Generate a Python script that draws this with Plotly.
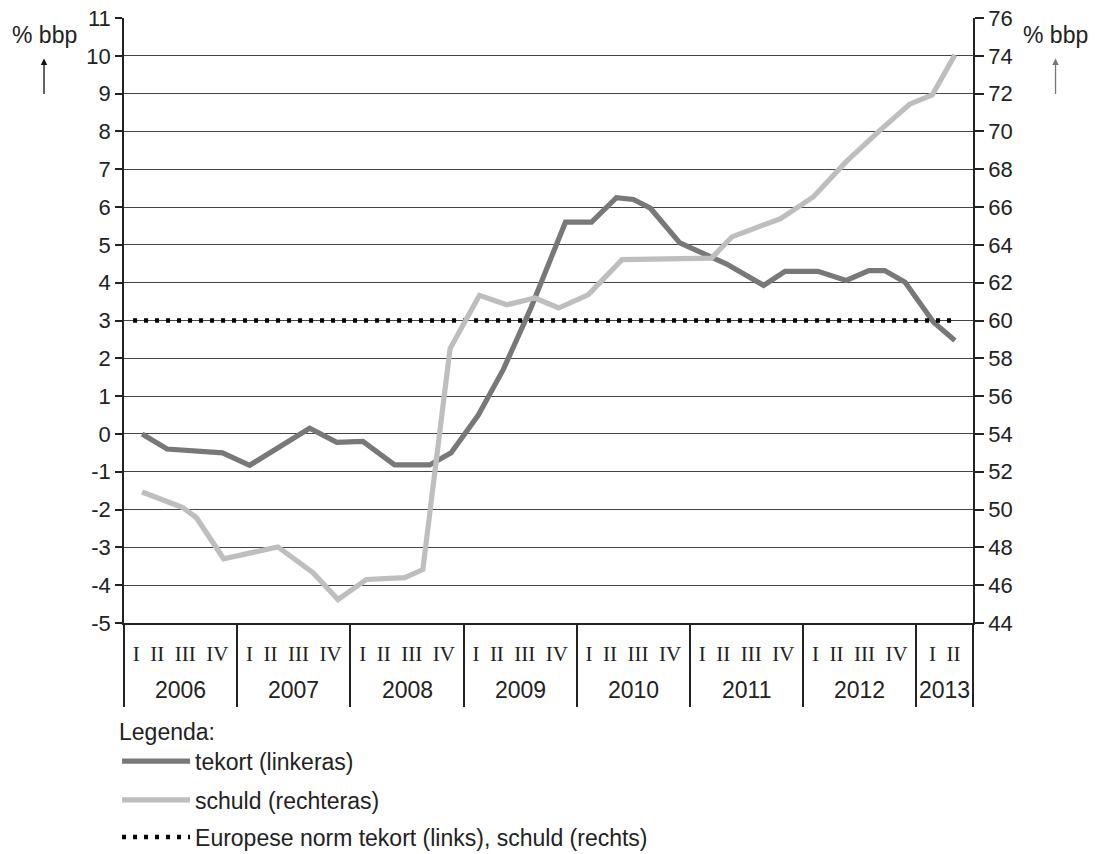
import plotly.graph_objects as go

# ---- data ----
tekort_x = [2006.16, 2006.38, 2006.87, 2007.11, 2007.64, 2007.88, 2008.11, 2008.39, 2008.70,
            2008.89, 2009.13, 2009.35, 2009.59, 2009.90, 2010.13, 2010.35, 2010.50, 2010.65,
            2010.91, 2011.21, 2011.32, 2011.65, 2011.84, 2012.13, 2012.38, 2012.58, 2012.72,
            2012.90, 2013.15, 2013.34]
tekort_y = [0.0, -0.4, -0.5, -0.83, 0.15, -0.22, -0.2, -0.82, -0.82,
            -0.5, 0.5, 1.7, 3.3, 5.6, 5.6, 6.25, 6.2, 5.97,
            5.05, 4.66, 4.5, 3.93, 4.3, 4.3, 4.06, 4.32, 4.32,
            4.01, 2.96, 2.47]

schuld_x = [2006.16, 2006.38, 2006.52, 2006.64, 2006.88, 2007.36, 2007.67, 2007.89, 2008.14,
            2008.48, 2008.64, 2008.88, 2009.14, 2009.38, 2009.63, 2009.84, 2010.10, 2010.40,
            2011.19, 2011.37, 2011.80, 2012.09, 2012.38, 2012.68, 2012.94, 2013.14, 2013.34]
schuld_y = [50.93, 50.46, 50.1, 49.57, 47.4, 48.02, 46.66, 45.24, 46.3,
            46.4, 46.83, 58.5, 61.33, 60.83, 61.19, 60.66, 61.36, 63.22,
            63.3, 64.42, 65.39, 66.54, 68.4, 70.07, 71.44, 71.93, 74.05]

norm_x = [2006.08, 2013.34]
norm_y = [3, 3]

years = [2006, 2007, 2008, 2009, 2010, 2011, 2012, 2013]
quarters_per_year = [4, 4, 4, 4, 4, 4, 4, 2]
quarter_names = ["I", "II", "III", "IV"]

left_ticks = list(range(-5, 12))
right_ticks = list(range(44, 77, 2))

names = ["tekort (linkeras)", "schuld (rechteras)", "Europese norm tekort (links), schuld (rechts)"]

# ---- derived tick definitions ----
NB = "\u00a0\u00a0"
x_end = years[-1] + quarters_per_year[-1] / 4
boundaries = years + [x_end]
year_mid = [yr + nq / 8 for yr, nq in zip(years, quarters_per_year)]
quarter_text = [NB.join(quarter_names[:nq]) for nq in quarters_per_year]

TXT = "#222222"
SANS = "Liberation Sans, Arial, sans-serif"
SERIF = "Liberation Serif, Times New Roman, serif"
LFONT = dict(family=SANS, size=23, color=TXT)

fig = go.Figure()
fig.add_trace(go.Scatter(x=tekort_x, y=tekort_y, name=names[0], mode="lines",
                         line=dict(color="#787878", width=5.2), legend="legend"))
fig.add_trace(go.Scatter(x=schuld_x, y=schuld_y, name=names[1], mode="lines", yaxis="y2",
                         line=dict(color="#bebebe", width=5.2), legend="legend2"))
fig.add_trace(go.Scatter(x=norm_x, y=norm_y, name=names[2], mode="lines",
                         line=dict(color="#000000", width=4.5, dash="4px,7px"), legend="legend3"))

annotations = []
for yr, xm in zip(years, year_mid):
    annotations.append(dict(x=xm, y=0, xref="x", yref="paper", yshift=-67, yanchor="middle",
                            xanchor="center", text=str(yr), showarrow=False,
                            font=dict(family=SANS, size=23, color=TXT)))
# unit labels with arrows
for xp, col in [(-0.0942, "#111111"), (1.0972, "#777777")]:
    annotations.append(dict(x=xp, y=0.972, xref="paper", yref="paper", text="% bbp",
                            xanchor="center", yanchor="middle",
                            showarrow=False, font=dict(family=SANS, size=23, color=TXT)))
    annotations.append(dict(x=xp, y=0.933, xref="paper", yref="paper", text="",
                            showarrow=True, ax=0, ay=37, arrowhead=2, arrowsize=1,
                            arrowwidth=1.3, arrowcolor=col))

common_leg = dict(x=-0.0082, xanchor="left", orientation="v", itemwidth=68,
                  font=LFONT, bgcolor="rgba(0,0,0,0)")

fig.update_layout(
    width=1098, height=854,
    margin=dict(l=124, r=125, t=18, b=231, autoexpand=False),
    paper_bgcolor="white", plot_bgcolor="white",
    font=dict(family=SANS, color=TXT, size=22),
    showlegend=True,
    legend=dict(y=-0.1434, yanchor="top", title=dict(text="Legenda:", font=LFONT), **common_leg),
    legend2=dict(y=-0.2926, yanchor="middle", **common_leg),
    legend3=dict(y=-0.3537, yanchor="middle", **common_leg),
    xaxis=dict(range=[years[0], x_end], tickvals=year_mid, ticktext=quarter_text, ticks="",
               tickfont=dict(family=SERIF, size=21, color=TXT), ticklabelstandoff=11,
               showgrid=False, zeroline=False, showline=True, linecolor="#222", linewidth=1.5,
               minor=dict(tickvals=boundaries, ticks="outside", ticklen=82, tickwidth=1.5,
                          tickcolor="#222", showgrid=False)),
    yaxis=dict(range=[left_ticks[0], left_ticks[-1]], tickvals=left_ticks,
               ticktext=[str(v) for v in left_ticks], ticks="outside", ticklen=7,
               tickcolor="#222", tickwidth=1.5,
               showline=True, linecolor="#222", linewidth=1.5,
               showgrid=True, gridcolor="#444", gridwidth=1, zeroline=False,
               tickfont=dict(family=SANS, size=22, color=TXT)),
    yaxis2=dict(range=[right_ticks[0], right_ticks[-1]], tickvals=right_ticks,
                ticktext=[str(v) for v in right_ticks], overlaying="y", side="right",
                ticks="outside", ticklen=9, tickcolor="#222", tickwidth=1.5,
                showline=True, linecolor="#222", linewidth=1.5, showgrid=False, zeroline=False,
                tickfont=dict(family=SANS, size=22, color=TXT)),
    annotations=annotations,
)

fig.write_html("out.html", config={"displayModeBar": False},
               post_script="document.body.style.margin='0';document.body.style.overflow='hidden';")
